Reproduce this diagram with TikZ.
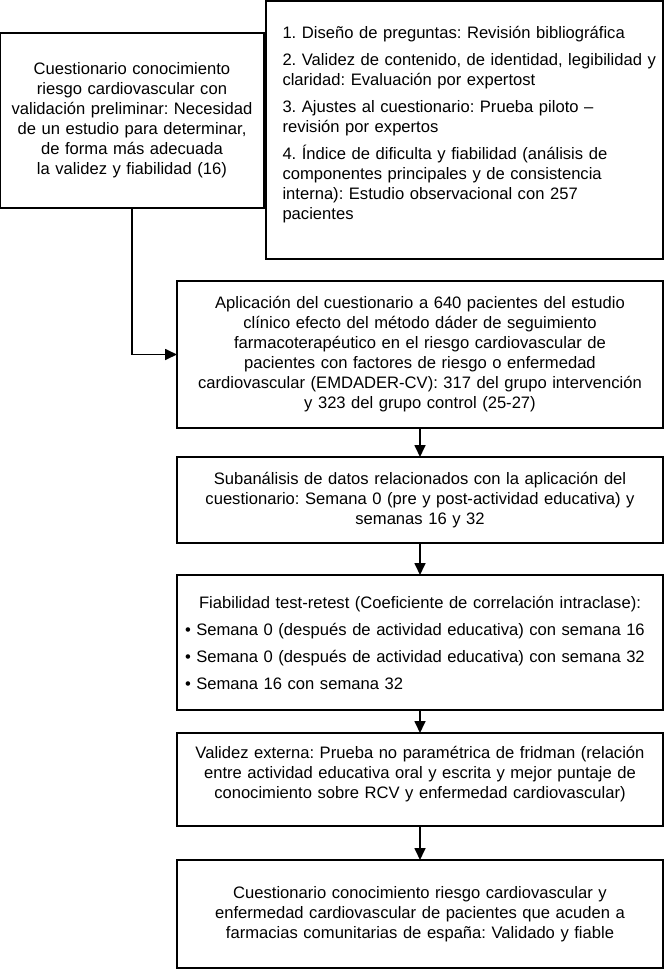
\documentclass[tikz,border=0pt]{standalone}
\usepackage{fontspec}
\setmainfont{Liberation Sans}
\frenchspacing
\usetikzlibrary{positioning,arrows.meta}
\begin{document}
\begin{tikzpicture}[
    x=1pt, y=-1pt,
    node distance={29pt},
    caja/.style = {draw, line width=1.7pt, outer sep=0pt, inner xsep=8pt, inner ysep=0pt,
                   text width=470pt, minimum height=#1, align=center,
                   font=\fontsize{16.6}{20}\selectfont},
    flecha/.style = {line width=1.7pt, -{Triangle[length=12pt, width=11pt]}}
]
    \useasboundingbox (0,0) rectangle (665,969);

    % --- Parte superior (cuestionario previo y pasos) ---
    \node[caja=258pt, text width=384pt, inner xsep=6.5pt, align=left] (D) at (464.5,130)
        {\leftskip=10pt
         1. Diseño de preguntas: Revisión bibliográfica\\[7pt]
         2. Validez de contenido, de identidad, legibilidad y\\ claridad: Evaluación por expertost\\[7pt]
         3. Ajustes al cuestionario: Prueba piloto –\\ revisión por expertos\\[7pt]
         4. Índice de dificulta y fiabilidad (análisis de\\ componentes principales y de consistencia\\
         interna): Estudio observacional con 257\\ pacientes\par\kern11pt};
    \node[caja=175pt, text width=248pt] (C) [left=2pt of D, yshift=9.5pt]
        {Cuestionario conocimiento\\ riesgo cardiovascular con\\ validación preliminar: Necesidad\\
         de un estudio para determinar,\\ de forma más adecuada\\ la validez y fiabilidad (16)};

    % --- Cadena principal ---
    \node[caja=147pt] (A) [below left=22pt and 0pt of D.south east]
        {Aplicación del cuestionario a 640 pacientes del estudio\\ clínico efecto del método dáder de seguimiento\\
         farmacoterapéutico en el riesgo cardiovascular de\\ pacientes con factores de riesgo o enfermedad\\
         cardiovascular (EMDADER-CV): 317 del grupo intervención\\ y 323 del grupo control (25-27)};
    \node[caja=86pt] (S) [below=29pt of A]
        {Subanálisis de datos relacionados con la aplicación del\\
         cuestionario: Semana 0 (pre y post-actividad educativa) y\\ semanas 16 y 32};
    \node[caja=135pt, align=left] (F) [below=32pt of S]
        {\hfill Fiabilidad test-retest (Coeficiente de correlación intraclase):\hfill\null\\[7pt]
         \textbullet\ Semana 0 (después de actividad educativa) con semana 16\\[7pt]
         \textbullet\ Semana 0 (después de actividad educativa) con semana 32\\[7pt]
         \textbullet\ Semana 16 con semana 32};
    \node[caja=93pt] (V) [below=23pt of F]
        {Validez externa: Prueba no paramétrica de fridman (relación\\
         entre actividad educativa oral y escrita y mejor puntaje de\\
         conocimiento sobre RCV y enfermedad cardiovascular)\par\kern10pt};
    \node[caja=108pt] (R) [below=34pt of V]
        {Cuestionario conocimiento riesgo cardiovascular y\\
         enfermedad cardiovascular de pacientes que acuden a\\
         farmacias comunitarias de españa: Validado y fiable};

    \draw[flecha] (C.south) |- (A.west);
    \foreach \a/\b in {A/S, S/F, F/V, V/R}
        \draw[flecha] (\a) -- (\b);

\end{tikzpicture}
\end{document}
